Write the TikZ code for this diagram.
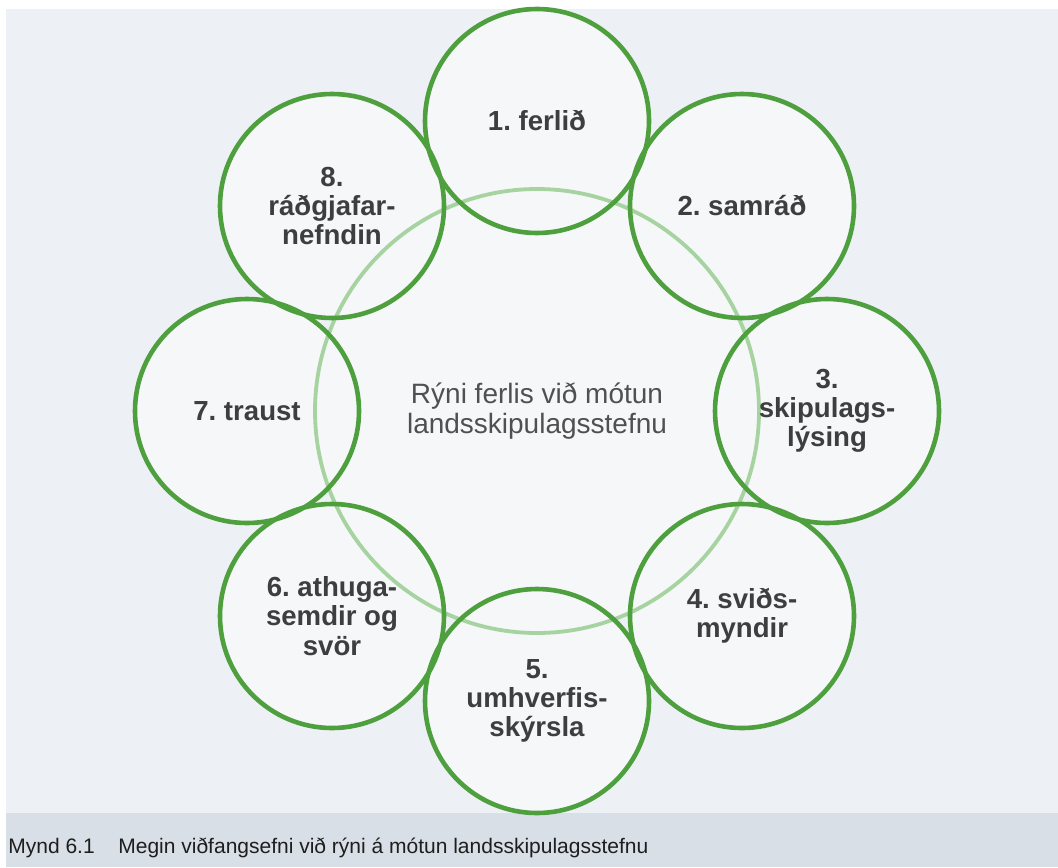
\documentclass[tikz,border=0pt]{standalone}
\usepackage{fontspec}
\setmainfont{Liberation Sans}
\usetikzlibrary{backgrounds}
\definecolor{pagebg}{HTML}{EDF0F4}
\definecolor{bandbg}{HTML}{D9DFE6}
\definecolor{discfill}{HTML}{F5F7F9}
\definecolor{ringgreen}{HTML}{4E9F3D}
\definecolor{hubgreen}{HTML}{A6D3A0}
\definecolor{labelgrey}{HTML}{3E3E3E}
\definecolor{hubgrey}{HTML}{505050}
\definecolor{captiongrey}{HTML}{1E1E1E}
\frenchspacing
\begin{document}
\begin{tikzpicture}[x=0.5pt,y=-0.5pt,
    topic/.style ={circle, draw=ringgreen, line width=2.3pt, minimum size=112pt, inner sep=0pt,
      align=center, text=labelgrey, font=\fontsize{13.8}{14.6}\selectfont\bfseries},
    hub/.style ={circle, draw=hubgreen, line width=1.9pt, minimum size=222pt, inner sep=0pt,
      align=center, text=hubgrey, font=\fontsize{14}{15}\selectfont},
    caption/.style ={anchor=base west, inner sep=0pt, text=captiongrey, font=\fontsize{10.5}{12}\selectfont}]
   \useasboundingbox (0,0) rectangle (1058,867);

   \node[hub] (H) at (537,411) {Rýni ferlis við mótun\\landsskipulagsstefnu};

   \node[topic] (T1) at (537,121) {1. ferlið};
   \node[topic] (T2) at (742,206) {2. samráð};
   \node[topic] (T3) at (827,411) {3.\\skipulags-\\lýsing};
   \node[topic] (T4) at (742,616) {4. sviðs-\\myndir};
   \node[topic] (T5) at (537,701) {5.\\umhverfis-\\skýrsla};
   \node[topic] (T6) at (332,616) {6. athuga-\\semdir og\\svör};
   \node[topic] (T7) at (247,411) {7. traust};
   \node[topic] (T8) at (332,206) {8.\\ráðgjafar-\\nefndin};

   \node[caption] (N) at (8,853) {Mynd 6.1};
   \node[caption] (C) at (118,853) {Megin viðfangsefni við rýni á mótun landsskipulagsstefnu};

   \begin{scope}[on background layer]
   \fill[white] (0,0) rectangle (1058,867);
   \fill[pagebg] (6,9) rectangle (1058,813);
   \fill[bandbg] (6,813) rectangle (1058,867);
   \fill[discfill] (H.center) circle[radius=222];
   \foreach \t in {T1,T2,T3,T4,T5,T6,T7,T8}
     \fill[discfill] (\t.center) circle[radius=112];
   \end{scope}
 \end{tikzpicture}
\end{document}
